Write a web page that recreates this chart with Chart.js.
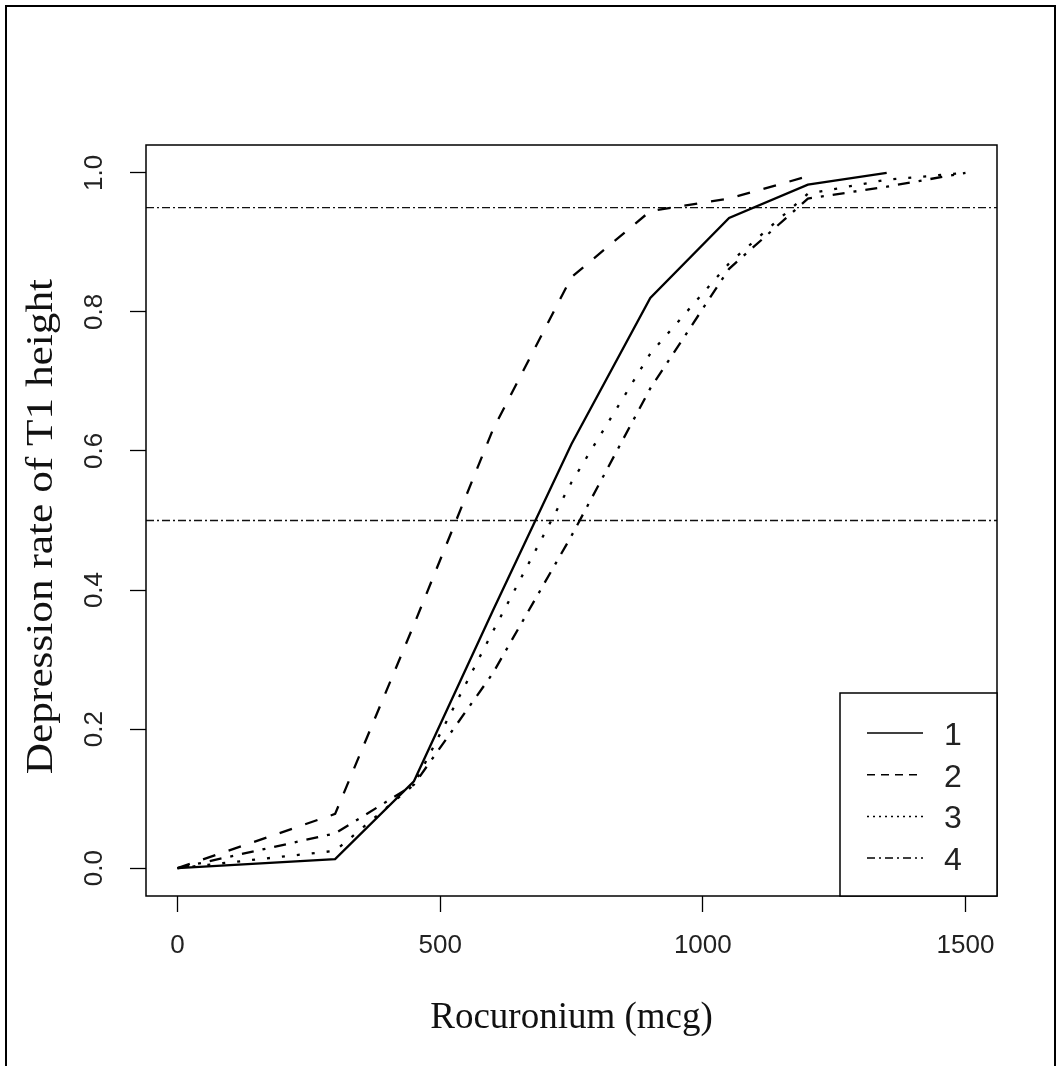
<!DOCTYPE html>
<html>
<head>
<meta charset="utf-8">
<script src="https://cdn.jsdelivr.net/npm/chart.js@4.4.1/dist/chart.umd.min.js"></script>
<style>
  html, body { margin: 0; padding: 0; background: #fff; }
  #wrap { width: 1060px; height: 1066px; }
</style>
</head>
<body>
<div id="wrap"><canvas id="doseChart" width="1060" height="1066"></canvas></div>
<script>
// rocuronium dose (mcg) and T1 depression rate per group
const dose = [0, 300, 450, 600, 750, 900, 1050, 1200, 1350, 1500];
const group1 = [0, 0.013, 0.125, 0.37, 0.61, 0.82, 0.935, 0.983, 1.0];
const group2 = [0, 0.078, 0.35, 0.63, 0.85, 0.945, 0.963, 0.995];
const group3 = [0, 0.025, 0.12, 0.34, 0.555, 0.74, 0.87, 0.97, 0.99, 1.0];
const group4 = [0, 0.05, 0.12, 0.28, 0.478, 0.69, 0.862, 0.963, 0.98, 1.0];
const groupNames = ['1', '2', '3', '4'];
const refLevels = [0.95, 0.5];
const xTicks = [0, 500, 1000, 1500];
const yTicks = [0, 0.2, 0.4, 0.6, 0.8, 1.0];
const yTitle = 'Depression rate of T1 height';

const xMin = -60, xMax = 1560;
const yMin = -0.04, yMax = 1.04;

// line styles: solid, dashed, dotted, dot-dash (like R lty 1..4)
const dashes = [[], [13, 14], [3, 12], [12, 9, 3, 9]];
const legendDashes = [[], [8, 6], [2, 4], [8, 4, 2, 4]];

function toPoints(vals) {
    return vals.map((v, i) => ({ x: dose[i], y: v }));
}

const groupSets = [group1, group2, group3, group4].map((vals, i) => ({
    label: groupNames[i],
    data: toPoints(vals),
    borderColor: '#000',
    borderWidth: 2.3,
    borderDash: dashes[i],
    pointRadius: 0,
    tension: 0,
    fill: false
}));

const refSets = refLevels.map(level => ({
    label: '',
    isRef: true,
    data: [{ x: xMin, y: level }, { x: xMax, y: level }],
    borderColor: '#111',
    borderWidth: 1.3,
    borderDash: [8, 3, 2, 3],
    pointRadius: 0,
    fill: false
}));

// white page + outer frame + plot box + y title
const framePlugin = {
    id: 'frame',
    beforeDraw(chart) {
        const ctx = chart.ctx;
        ctx.save();
        ctx.fillStyle = '#fff';
        ctx.fillRect(0, 0, chart.width, chart.height);
        ctx.restore();
    },
    afterDraw(chart) {
        const ctx = chart.ctx;
        const a = chart.chartArea;
        ctx.save();
        ctx.strokeStyle = '#000';
        ctx.lineWidth = 1.5;
        ctx.strokeRect(a.left, a.top, a.right - a.left, a.bottom - a.top);
        ctx.lineWidth = 2;
        ctx.beginPath();
        ctx.moveTo(6, chart.height);
        ctx.lineTo(6, 6);
        ctx.lineTo(1055, 6);
        ctx.lineTo(1055, chart.height);
        ctx.stroke();

        // y title, a bit stretched along its length like the original
        ctx.translate(42, (a.top + a.bottom) / 2 + 6);
        ctx.rotate(-Math.PI / 2);
        ctx.scale(1.17, 1);
        ctx.font = '37px "Liberation Serif"';
        ctx.fillStyle = '#111';
        ctx.textAlign = 'center';
        ctx.textBaseline = 'middle';
        ctx.fillText(yTitle, 0, 0);
        ctx.restore();
    }
};

// boxed legend in the bottom-right corner of the plot
const boxLegend = {
    id: 'boxLegend',
    afterDraw(chart) {
        const ctx = chart.ctx;
        const a = chart.chartArea;
        const sets = chart.data.datasets.filter(d => !d.isRef);
        const w = 157, rowH = 41.7;
        const h = 203;
        const left = a.right - w, top = a.bottom - h;
        ctx.save();
        ctx.fillStyle = '#fff';
        ctx.fillRect(left, top, w, h);
        ctx.strokeStyle = '#000';
        ctx.lineWidth = 1.5;
        ctx.strokeRect(left, top, w, h);
        ctx.font = '32px "Liberation Sans"';
        ctx.textBaseline = 'middle';
        ctx.textAlign = 'left';
        sets.forEach((d, i) => {
            const y = top + 40 + i * rowH;
            ctx.beginPath();
            ctx.setLineDash(legendDashes[i]);
            ctx.lineWidth = 1.5;
            ctx.strokeStyle = '#000';
            ctx.moveTo(left + 27, y);
            ctx.lineTo(left + 83, y);
            ctx.stroke();
            ctx.setLineDash([]);
            ctx.fillStyle = '#222';
            ctx.fillText(d.label, left + 104, y + 3);
        });
        ctx.restore();
    }
};

new Chart(document.getElementById('doseChart').getContext('2d'), {
    type: 'line',
    data: { datasets: groupSets.concat(refSets) },
    options: {
        responsive: false,
        animation: false,
        layout: { padding: { left: 0, top: 145, right: 63, bottom: 0 } },
        plugins: {
            legend: { display: false },
            tooltip: { enabled: false }
        },
        scales: {
            x: {
                type: 'linear',
                min: xMin,
                max: xMax,
                afterBuildTicks: s => { s.ticks = xTicks.map(v => ({ value: v })); },
                afterFit: s => { s.height = 170; },
                grid: { display: true, drawOnChartArea: false, drawTicks: true, tickLength: 16, tickColor: '#000', tickWidth: 1.3 },
                border: { display: false },
                ticks: {
                    autoSkip: false,
                    maxRotation: 0,
                    padding: 18,
                    color: '#222',
                    font: { family: 'Liberation Sans', size: 26 },
                    callback: v => String(v)
                },
                title: {
                    display: true,
                    text: 'Rocuronium (mcg)',
                    color: '#111',
                    font: { family: 'Liberation Serif', size: 37, lineHeight: 1 },
                    padding: { top: 0, bottom: 29 }
                }
            },
            y: {
                type: 'linear',
                min: yMin,
                max: yMax,
                afterBuildTicks: s => { s.ticks = yTicks.map(v => ({ value: v })); },
                afterFit: s => { s.width = 146; },
                grid: { display: true, drawOnChartArea: false, drawTicks: true, tickLength: 16, tickColor: '#000', tickWidth: 1.3 },
                border: { display: false },
                ticks: {
                    autoSkip: false,
                    minRotation: 90,
                    maxRotation: 90,
                    crossAlign: 'center',
                    padding: 17,
                    color: '#222',
                    font: { family: 'Liberation Sans', size: 26 },
                    callback: v => v.toFixed(1)
                },
                title: { display: false }
            }
        }
    },
    plugins: [framePlugin, boxLegend]
});
</script>
</body>
</html>
